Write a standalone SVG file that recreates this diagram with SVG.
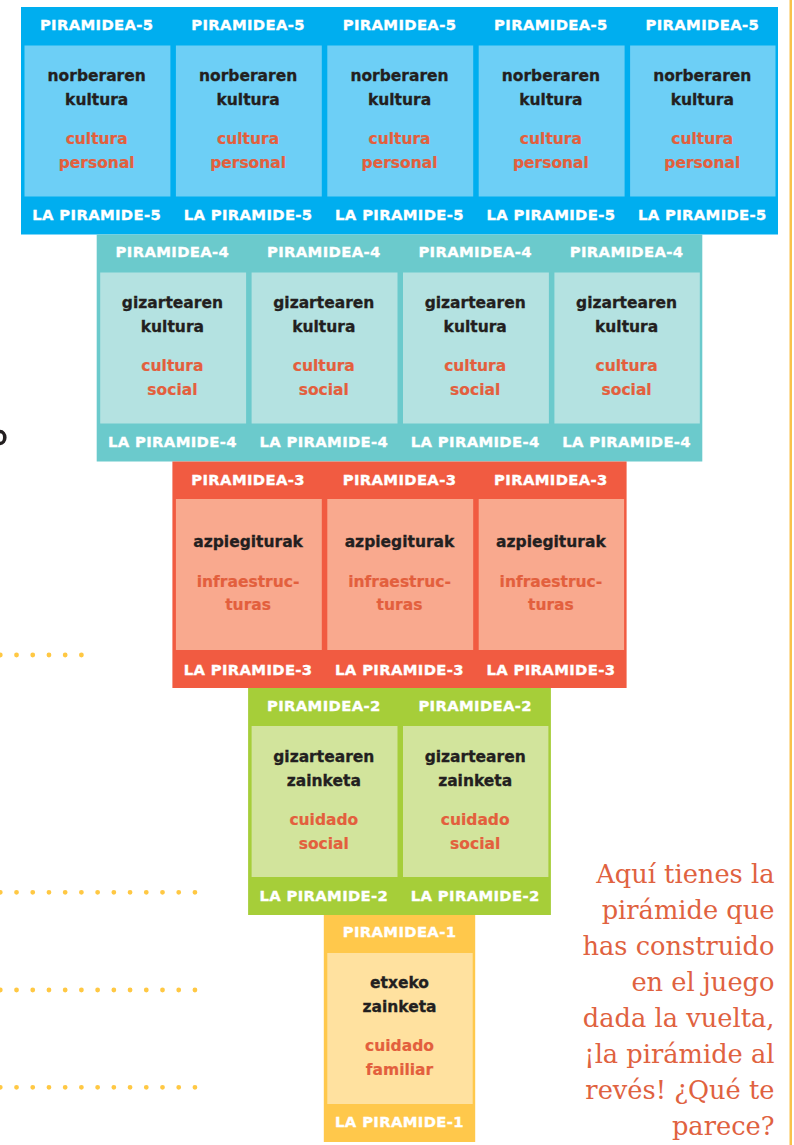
<svg xmlns="http://www.w3.org/2000/svg" width="794" height="1145" viewBox="0 0 794 1145">
<style>
text{font-family:"Comic Sans MS","DejaVu Sans",sans-serif;font-weight:bold;text-anchor:middle}
.hd{fill:#ffffff;stroke:#ffffff;stroke-width:0.35px;font-size:14.8px;letter-spacing:0.35px}
.bk{fill:#231f20;stroke:#231f20;stroke-width:0.3px;font-size:15.5px}
.or{fill:#e35f3d;stroke:#e35f3d;stroke-width:0.2px;font-size:15.5px}
.note{font-family:"DejaVu Serif",serif;font-weight:normal;font-size:25.7px;fill:#e0623f;text-anchor:end}
.d5{fill:#00aeef}.b5{fill:#6dcff6}
.d4{fill:#6bcacc}.b4{fill:#b4e2e1}
.d3{fill:#f15b41}.b3{fill:#f9a98e}
.d2{fill:#a6ce39}.b2{fill:#d2e49c}
.d1{fill:#ffc84b}.b1{fill:#ffe19f}
.dots{stroke:#ffc843;stroke-width:4.8;stroke-linecap:round;stroke-dasharray:0 16.22;fill:none}
</style>
<rect x="0" y="0" width="794" height="1145" fill="#ffffff"/>
<rect x="789.5" y="0" width="2.5" height="1145" fill="#f9c24b"/>
<ellipse cx="0" cy="437.5" rx="4.8" ry="6" fill="none" stroke="#231f20" stroke-width="3.6"/>
<g id="connectors">
<line class="dots" x1="0.3" y1="655" x2="82" y2="655"/>
<line class="dots" x1="0.3" y1="892.3" x2="196" y2="892.3"/>
<line class="dots" x1="0.3" y1="990" x2="196" y2="990"/>
<line class="dots" x1="0.3" y1="1087.3" x2="196" y2="1087.3"/>
</g>
<g id="level5">
<rect class="d5" x="21" y="7" width="757" height="227.5"/>
<g id="p5-1"><rect class="b5" x="24.5" y="45.5" width="145.9" height="151"/>
<text class="hd" x="96.7" y="30">PIRAMIDEA-5</text><text class="bk" x="96.7" y="81">norberaren</text><text class="bk" x="96.7" y="105">kultura</text><text class="or" x="96.7" y="144">cultura</text><text class="or" x="96.7" y="167.5">personal</text><text class="hd" x="96.7" y="219.5">LA PIRAMIDE-5</text></g>
<g id="p5-2"><rect class="b5" x="175.9" y="45.5" width="145.9" height="151"/>
<text class="hd" x="248.1" y="30">PIRAMIDEA-5</text><text class="bk" x="248.1" y="81">norberaren</text><text class="bk" x="248.1" y="105">kultura</text><text class="or" x="248.1" y="144">cultura</text><text class="or" x="248.1" y="167.5">personal</text><text class="hd" x="248.1" y="219.5">LA PIRAMIDE-5</text></g>
<g id="p5-3"><rect class="b5" x="327.3" y="45.5" width="145.9" height="151"/>
<text class="hd" x="399.5" y="30">PIRAMIDEA-5</text><text class="bk" x="399.5" y="81">norberaren</text><text class="bk" x="399.5" y="105">kultura</text><text class="or" x="399.5" y="144">cultura</text><text class="or" x="399.5" y="167.5">personal</text><text class="hd" x="399.5" y="219.5">LA PIRAMIDE-5</text></g>
<g id="p5-4"><rect class="b5" x="478.7" y="45.5" width="145.9" height="151"/>
<text class="hd" x="550.9" y="30">PIRAMIDEA-5</text><text class="bk" x="550.9" y="81">norberaren</text><text class="bk" x="550.9" y="105">kultura</text><text class="or" x="550.9" y="144">cultura</text><text class="or" x="550.9" y="167.5">personal</text><text class="hd" x="550.9" y="219.5">LA PIRAMIDE-5</text></g>
<g id="p5-5"><rect class="b5" x="630.1" y="45.5" width="145.4" height="151"/>
<text class="hd" x="702.3" y="30">PIRAMIDEA-5</text><text class="bk" x="702.3" y="81">norberaren</text><text class="bk" x="702.3" y="105">kultura</text><text class="or" x="702.3" y="144">cultura</text><text class="or" x="702.3" y="167.5">personal</text><text class="hd" x="702.3" y="219.5">LA PIRAMIDE-5</text></g>
</g>
<g id="level4">
<rect class="d4" x="96.7" y="234.5" width="605.6" height="227"/>
<g id="p4-1"><rect class="b4" x="100.2" y="272.5" width="145.9" height="151"/>
<text class="hd" x="172.4" y="257">PIRAMIDEA-4</text><text class="bk" x="172.4" y="308">gizartearen</text><text class="bk" x="172.4" y="332">kultura</text><text class="or" x="172.4" y="371">cultura</text><text class="or" x="172.4" y="394.5">social</text><text class="hd" x="172.4" y="446.5">LA PIRAMIDE-4</text></g>
<g id="p4-2"><rect class="b4" x="251.6" y="272.5" width="145.9" height="151"/>
<text class="hd" x="323.8" y="257">PIRAMIDEA-4</text><text class="bk" x="323.8" y="308">gizartearen</text><text class="bk" x="323.8" y="332">kultura</text><text class="or" x="323.8" y="371">cultura</text><text class="or" x="323.8" y="394.5">social</text><text class="hd" x="323.8" y="446.5">LA PIRAMIDE-4</text></g>
<g id="p4-3"><rect class="b4" x="403" y="272.5" width="145.9" height="151"/>
<text class="hd" x="475.2" y="257">PIRAMIDEA-4</text><text class="bk" x="475.2" y="308">gizartearen</text><text class="bk" x="475.2" y="332">kultura</text><text class="or" x="475.2" y="371">cultura</text><text class="or" x="475.2" y="394.5">social</text><text class="hd" x="475.2" y="446.5">LA PIRAMIDE-4</text></g>
<g id="p4-4"><rect class="b4" x="554.4" y="272.5" width="145.4" height="151"/>
<text class="hd" x="626.6" y="257">PIRAMIDEA-4</text><text class="bk" x="626.6" y="308">gizartearen</text><text class="bk" x="626.6" y="332">kultura</text><text class="or" x="626.6" y="371">cultura</text><text class="or" x="626.6" y="394.5">social</text><text class="hd" x="626.6" y="446.5">LA PIRAMIDE-4</text></g>
</g>
<g id="level3">
<rect class="d3" x="172.4" y="461.5" width="454.2" height="226.5"/>
<g id="p3-1"><rect class="b3" x="175.9" y="499" width="145.9" height="151"/>
<text class="hd" x="248.1" y="485">PIRAMIDEA-3</text><text class="bk" x="248.1" y="546.5">azpiegiturak</text><text class="or" x="248.1" y="586.5">infraestruc-</text><text class="or" x="248.1" y="610">turas</text><text class="hd" x="248.1" y="674.5">LA PIRAMIDE-3</text></g>
<g id="p3-2"><rect class="b3" x="327.3" y="499" width="145.9" height="151"/>
<text class="hd" x="399.5" y="485">PIRAMIDEA-3</text><text class="bk" x="399.5" y="546.5">azpiegiturak</text><text class="or" x="399.5" y="586.5">infraestruc-</text><text class="or" x="399.5" y="610">turas</text><text class="hd" x="399.5" y="674.5">LA PIRAMIDE-3</text></g>
<g id="p3-3"><rect class="b3" x="478.7" y="499" width="145.4" height="151"/>
<text class="hd" x="550.9" y="485">PIRAMIDEA-3</text><text class="bk" x="550.9" y="546.5">azpiegiturak</text><text class="or" x="550.9" y="586.5">infraestruc-</text><text class="or" x="550.9" y="610">turas</text><text class="hd" x="550.9" y="674.5">LA PIRAMIDE-3</text></g>
</g>
<g id="level2">
<rect class="d2" x="248.1" y="688" width="302.8" height="227"/>
<g id="p2-1"><rect class="b2" x="251.6" y="726" width="145.9" height="151"/>
<text class="hd" x="323.8" y="711">PIRAMIDEA-2</text><text class="bk" x="323.8" y="762">gizartearen</text><text class="bk" x="323.8" y="786">zainketa</text><text class="or" x="323.8" y="825">cuidado</text><text class="or" x="323.8" y="848.5">social</text><text class="hd" x="323.8" y="900.5">LA PIRAMIDE-2</text></g>
<g id="p2-2"><rect class="b2" x="403" y="726" width="145.4" height="151"/>
<text class="hd" x="475.2" y="711">PIRAMIDEA-2</text><text class="bk" x="475.2" y="762">gizartearen</text><text class="bk" x="475.2" y="786">zainketa</text><text class="or" x="475.2" y="825">cuidado</text><text class="or" x="475.2" y="848.5">social</text><text class="hd" x="475.2" y="900.5">LA PIRAMIDE-2</text></g>
</g>
<g id="level1">
<rect class="d1" x="323.8" y="915" width="151.4" height="227"/>
<g id="p1-1"><rect class="b1" x="327.3" y="953" width="145.4" height="151"/>
<text class="hd" x="399.5" y="937">PIRAMIDEA-1</text><text class="bk" x="399.5" y="988">etxeko</text><text class="bk" x="399.5" y="1012">zainketa</text><text class="or" x="399.5" y="1051">cuidado</text><text class="or" x="399.5" y="1075">familiar</text><text class="hd" x="399.5" y="1126.5">LA PIRAMIDE-1</text></g>
</g>
<g id="note">
<text class="note" x="774.5" y="882.5">Aquí tienes la</text>
<text class="note" x="774.5" y="918.5">pirámide que</text>
<text class="note" x="774.5" y="954.5">has construido</text>
<text class="note" x="774.5" y="990.5">en el juego</text>
<text class="note" x="774.5" y="1026.5">dada la vuelta,</text>
<text class="note" x="774.5" y="1062.5">¡la pirámide al</text>
<text class="note" x="774.5" y="1098.5">revés! ¿Qué te</text>
<text class="note" x="774.5" y="1134.5">parece?</text>
</g>
</svg>
